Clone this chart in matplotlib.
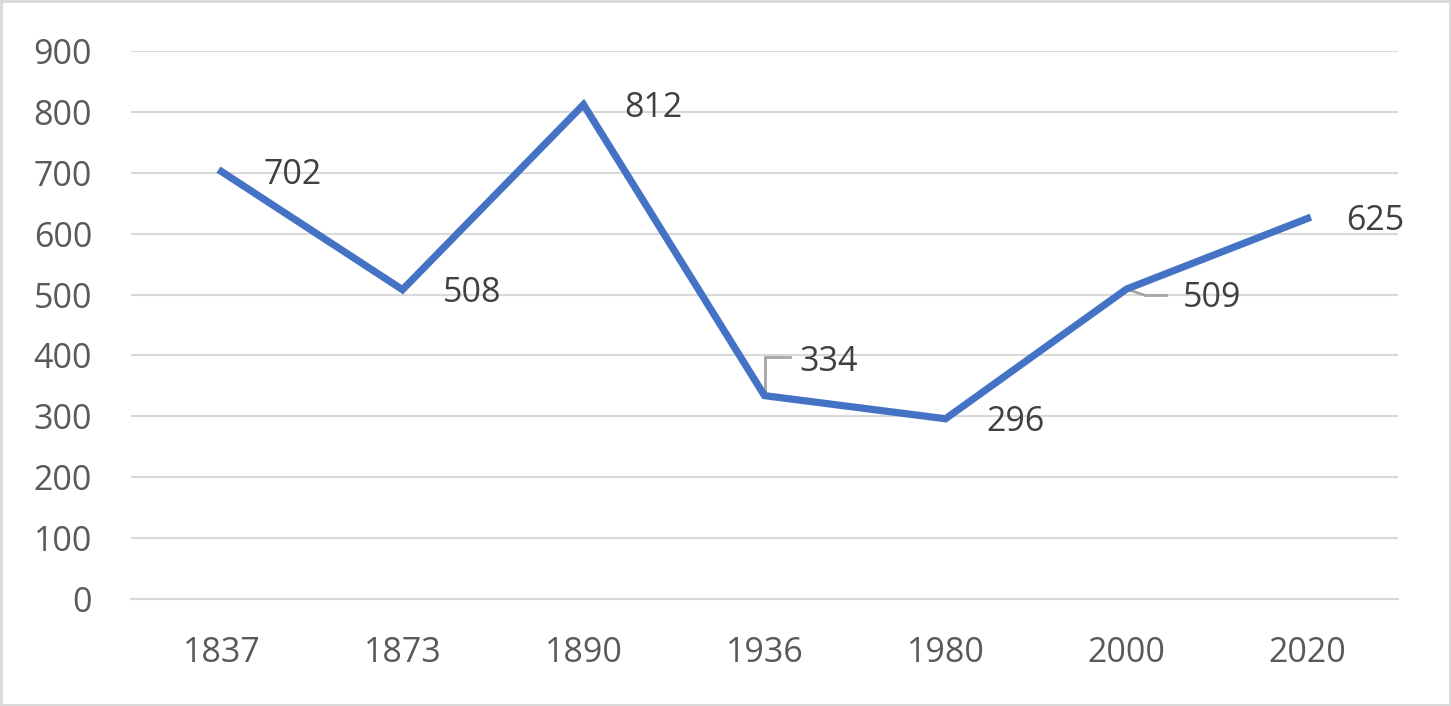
import matplotlib
matplotlib.use('Agg')
from matplotlib import pyplot as plt
from matplotlib.patches import Rectangle

years = ['1837', '1873', '1890', '1936', '1980', '2000', '2020']
values = [702, 508, 812, 334, 296, 509, 625]
y_ticks = [0, 100, 200, 300, 400, 500, 600, 700, 800, 900]

# label offsets in pixels (dx, dy) from each point
label_offsets = [(71, -3), (70, -3), (70, -3), (64, 34), (70, -3), (86, -9), (68, -3)]

plt.rcParams['font.family'] = ['Open Sans', 'DejaVu Sans']

fig = plt.figure(figsize=(14.51, 7.06), dpi=100)
ax = fig.add_axes([131 / 1451, 1 - 599 / 706, (1398 - 131) / 1451, (599 - 51) / 706])

x = list(range(len(years)))
ax.plot(x, values, color='#4472C4', linewidth=5.2, solid_joinstyle='miter', zorder=3)

ax.set_xlim(-0.5, len(years) - 0.5)
ax.set_ylim(0, 900)
ax.set_yticks(y_ticks)
ax.set_xticks(x)
ax.set_xticklabels(years)
ax.tick_params(axis='both', length=0, labelsize=24.5, labelcolor='#595959')
ax.tick_params(axis='y', pad=28)
ax.tick_params(axis='x', pad=27)
ax.grid(axis='y', color='#D9D9D9', linewidth=1.5)
ax.set_axisbelow(True)
for side in ['top', 'right', 'left']:
    ax.spines[side].set_visible(False)
ax.spines['bottom'].set_color('#D9D9D9')
ax.spines['bottom'].set_linewidth(1.5)

for i, v in enumerate(values):
    dx, dy = label_offsets[i]
    ax.annotate(str(v), (i, v), xytext=(dx, dy), textcoords='offset pixels',
                ha='center', va='center', fontsize=24.5, color='#404040', zorder=4)

# leader lines for 334 and 509
ax.plot([3, 3], [334, 398], color='#A6A6A6', linewidth=2, zorder=2)
ax.plot([3, 3.14], [398, 398], color='#A6A6A6', linewidth=2, zorder=2)
ax.plot([5, 5.1], [509, 499], color='#A6A6A6', linewidth=2, zorder=2)
ax.plot([5.1, 5.22], [499, 499], color='#A6A6A6', linewidth=2, zorder=2)

fig.patches.append(Rectangle((0.001, 0.001), 0.998, 0.997, transform=fig.transFigure,
                             fill=False, edgecolor='#D9D9D9', linewidth=2))

fig.savefig('out.png', dpi=100)
